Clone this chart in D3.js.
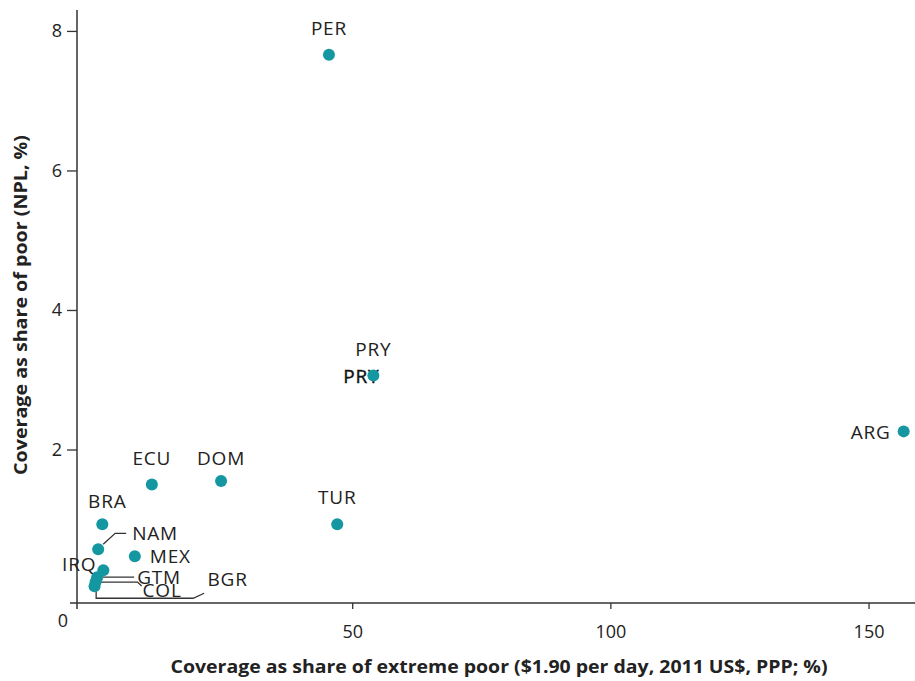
<!DOCTYPE html>
<html>
<head>
<meta charset="utf-8">
<script src="https://cdn.jsdelivr.net/npm/d3@7"></script>
<style>
  body { margin: 0; background: #fff; }
  svg { display: block; }
  text { font-family: "Open Sans", Lato, sans-serif; fill: #222; }
</style>
</head>
<body>
<svg id="chart" width="915" height="681"></svg>
<script>
// ---- data ----
const countries = ["PER", "PRY", "ARG", "ECU", "DOM", "TUR", "BRA", "NAM", "MEX", "IRQ", "GTM", "COL", "BGR"];
const extremePoorCoverage = [45.5, 54.1, 156.8, 11.2, 24.6, 47.1, 1.6, 0.8, 7.9, 1.8, 0.6, 0.3, 0.1];
const poorCoverage =        [7.66, 3.06, 2.26, 1.50, 1.55, 0.93, 0.93, 0.57, 0.47, 0.27, 0.17, 0.10, 0.04];
const xTickValues = [50, 100, 150];
const yTickValues = [2, 4, 6, 8];
const originLabel = "0";
const xTitle = "Coverage as share of extreme poor ($1.90 per day, 2011 US$, PPP; %)";
const yTitle = "Coverage as share of poor (NPL, %)";

const points = countries.map((c, i) => ({ name: c, x: extremePoorCoverage[i], y: poorCoverage[i] }));

// ---- layout ----
const svg = d3.select("#chart");
const x = d3.scaleLinear().domain([-3.3, 159]).range([77, 915]);
const y = d3.scaleLinear().domain([-0.2, 8.3]).range([603, 10]);
const axisColor = "#333";
const dotColor = "#1497a0";
const labelFont = 19;

// axes
const gx = svg.append("g").attr("transform", `translate(0,${y(-0.2)})`)
  .call(d3.axisBottom(x).tickValues(xTickValues).tickSize(6).tickPadding(16).tickFormat(d3.format("d")));
gx.select(".domain").remove();
gx.selectAll(".tick line").attr("stroke", axisColor).attr("stroke-width", 1.3);
gx.selectAll(".tick text").attr("font-size", 18).style("fill", "#222").attr("font-family", "Open Sans, sans-serif");

const gy = svg.append("g").attr("transform", `translate(${x(-3.3)},0)`)
  .call(d3.axisLeft(y).tickValues(yTickValues).tickSize(10).tickPadding(5));
gy.select(".domain").remove();
gy.selectAll(".tick line").attr("stroke", axisColor).attr("stroke-width", 1.3);
gy.selectAll(".tick text").attr("font-size", 18).style("fill", "#222").attr("font-family", "Open Sans, sans-serif");

// axis lines
svg.append("line").attr("x1", x(-3.3) - 7).attr("x2", 915).attr("y1", y(-0.2)).attr("y2", y(-0.2))
  .attr("stroke", axisColor).attr("stroke-width", 1.5);
svg.append("line").attr("x1", x(-3.3)).attr("x2", x(-3.3)).attr("y1", y(8.3)).attr("y2", y(-0.2) + 6)
  .attr("stroke", axisColor).attr("stroke-width", 1.5);

svg.append("text").attr("x", x(-3.3) - 14).attr("y", y(-0.2) + 24).attr("text-anchor", "middle")
  .attr("font-size", 18).text(originLabel);

// titles
svg.append("text").attr("x", 499).attr("y", 673).attr("text-anchor", "middle")
  .attr("font-size", 17).attr("font-weight", "bold")
  .attr("textLength", 657).attr("lengthAdjust", "spacingAndGlyphs").text(xTitle);
svg.append("text").attr("transform", `translate(27,305) rotate(-90)`).attr("text-anchor", "middle")
  .attr("font-size", 17).attr("font-weight", "bold")
  .attr("textLength", 340).attr("lengthAdjust", "spacingAndGlyphs").text(yTitle);

// label placements (offsets relative to the dot; dy is the baseline offset)
const labelSpec = {
  PER: { dx: 0, dy: -20, anchor: "middle" },
  PRY: { dx: 0, dy: -20, anchor: "middle" },
  ARG: { dx: -13, dy: 8, anchor: "end" },
  ECU: { dx: 0, dy: -19, anchor: "middle" },
  DOM: { dx: 0, dy: -16, anchor: "middle" },
  TUR: { dx: 0, dy: -20, anchor: "middle" },
  BRA: { dx: 5, dy: -16, anchor: "middle" },
  NAM: { dx: 34, dy: -9, anchor: "start" },
  MEX: { dx: 15, dy: 7, anchor: "start" },
  IRQ: { dx: -7, dy: 1, anchor: "end" },
  GTM: { dx: 40, dy: 7, anchor: "start" },
  COL: { dx: 47, dy: 15, anchor: "start" },
  BGR: { dx: 113, dy: 0, anchor: "start" }
};
// leader lines, as offsets from the dot
const leaders = {
  NAM: [[5, -5], [17, -16], [28, -16]],
  GTM: [[0, 0], [37, 0]],
  COL: [[0, 0], [42, 0], [46, 4]],
  BGR: [[1.6, 3], [1.6, 12], [98.6, 12], [109.6, 7]]
};

const px = d => x(d.x), py = d => y(d.y);

// leader lines
Object.entries(leaders).forEach(([name, pts]) => {
  const d = points.find(p => p.name === name);
  svg.append("path")
    .attr("d", d3.line()(pts.map(([a, b]) => [px(d) + a, py(d) + b])))
    .attr("fill", "none").attr("stroke", "#333").attr("stroke-width", 1.3);
});

// duplicated PRY label sitting under the dot
const pry = points.find(p => p.name === "PRY");
svg.append("text").attr("x", px(pry) - 30).attr("y", py(pry) + 7).attr("text-anchor", "start")
  .attr("font-size", labelFont).attr("letter-spacing", 0.8)
  .style("fill", "#111").attr("stroke", "#111").attr("stroke-width", 0.4)
  .text("PRY");

// dots
svg.selectAll("circle.dot").data(points).join("circle").attr("class", "dot")
  .attr("cx", px).attr("cy", py).attr("r", 6).attr("fill", dotColor);

// labels
svg.selectAll("text.lbl").data(points).join("text").attr("class", "lbl")
  .attr("x", d => px(d) + labelSpec[d.name].dx)
  .attr("y", d => py(d) + labelSpec[d.name].dy)
  .attr("text-anchor", d => labelSpec[d.name].anchor)
  .attr("font-size", labelFont).attr("letter-spacing", 0.8)
  .text(d => d.name);
</script>
</body>
</html>
